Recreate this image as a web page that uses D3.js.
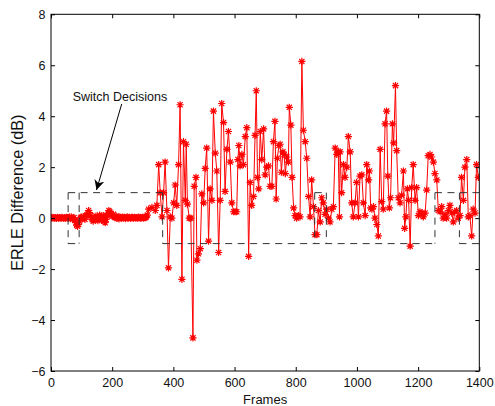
<!DOCTYPE html>
<html>
<head>
<meta charset="utf-8">
<script src="https://cdn.jsdelivr.net/npm/d3@7"></script>
<style>
  body { margin: 0; background: #fff; }
  svg { display: block; font-family: "Liberation Sans", Arial, sans-serif; }
</style>
</head>
<body>
<svg id="chart" width="495" height="406"></svg>
<script>

// frame index of every sample (quiet start is sampled densely)
const frames = [
  0, 3, 6, 9, 12, 15, 18, 21, 24, 27, 30, 33, 36, 39, 42, 45, 48, 51, 54,
  57, 60, 63, 66, 69, 72, 75, 78, 81, 84, 87, 90, 93, 96, 99,
  102, 105, 108, 111, 114, 117, 120, 123, 126, 129, 132, 135, 138, 141, 144,
  147, 150, 153, 156, 159, 162, 165, 168, 171, 174, 177, 180, 183, 186, 189,
  192, 195, 198, 201, 204, 207, 210, 213, 216, 219, 222, 225, 228, 231, 234,
  237, 240, 243, 246, 249, 252, 255, 258, 261, 264, 267, 270, 273, 276, 279,
  282, 285, 288, 291, 294, 297, 300, 303, 306, 309, 312, 315,
  319, 330, 341, 346, 352, 357, 363, 368, 373, 379, 384, 390, 395, 401, 406, 411, 417, 422, 428, 433,
  439, 442, 446, 452, 457, 464, 468, 474, 477, 482, 488, 493, 499, 504, 509, 515, 520, 526, 531, 537,
  542, 548, 553, 558, 564, 569, 575, 580, 586, 591, 597, 602, 607, 611, 614, 618, 624, 629, 635, 640,
  646, 651, 656, 662, 667, 671, 675, 679, 684, 689, 695, 700, 705, 711, 716, 722, 727, 732, 736, 740,
  745, 749, 753, 758, 762, 766, 771, 776, 779, 784, 788, 793, 798, 803, 809, 814, 820, 825, 831, 836,
  842, 847, 852, 858, 863, 869, 874, 880, 885, 890, 896, 901, 907, 912, 918, 923, 929, 934, 939, 943,
  945, 950, 956, 961, 967, 972, 978, 983, 988, 994, 999, 1005, 1010, 1016, 1021, 1027, 1032, 1038, 1041, 1045,
  1049, 1054, 1059, 1065, 1070, 1076, 1081, 1086, 1092, 1097, 1101, 1106, 1110, 1116, 1120, 1126, 1130, 1135, 1141, 1146,
  1152, 1156, 1160, 1165, 1169, 1174, 1179, 1184, 1190, 1195, 1201, 1206, 1212, 1217, 1223, 1228, 1233, 1239, 1244, 1250,
  1255, 1261, 1266, 1272, 1277, 1282, 1288, 1293, 1299, 1304, 1310, 1315, 1320, 1326, 1331, 1337, 1342, 1348, 1353, 1359,
  1364, 1369, 1375, 1380, 1386, 1391, 1397
]

// ERLE difference in dB, one per frame above
const erle = [
  0.02, 0.0, 0.03, 0.01, 0.0, 0.02, -0.01, 0.03, 0.0, 0.02, 0.01, 0.0, 0.03, 0.01, -0.01, 0.02, 0.0, 0.03, 0.01,
  0.0, 0.04, -0.02, 0.05, 0.0, -0.03, 0.02, -0.08, -0.18, -0.28, -0.32, -0.25, -0.12, 0.0, 0.04,
  -0.03, 0.06, 0.02, -0.05, 0.08, 0.12, 0.2, 0.3, 0.22, 0.1, 0.02, -0.06, -0.12, -0.05, 0.03,
  0.08, -0.04, -0.1, 0.0, 0.12, 0.05, -0.08, 0.02, 0.1, -0.12, -0.18, -0.05, 0.08, 0.2, 0.3,
  0.26, 0.18, 0.12, 0.08, 0.15, 0.05, 0.02, 0.08, 0.0, 0.04, -0.03, 0.05, 0.02, 0.0, 0.04,
  0.01, 0.03, -0.02, 0.02, 0.05, 0.0, 0.03, 0.01, -0.01, 0.04, 0.02, 0.0, 0.03, 0.01, 0.02,
  0.0, 0.04, 0.01, 0.03, -0.01, 0.02, 0.04, 0.0, 0.03, 0.02, 0.05, 0.12,
  0.35, 0.42, 0.3, 0.5, 2.1, 1.0, 0.05, 1.0, 2.2, 0.3, -1.95, 0.05, 0.0, 0.6, 1.3, 0.5, 2.1, 4.45, -2.4, 3.0,
  0.7, 2.9, 0.55, 0.0, 0.0, -4.7, 1.25, 1.6, -1.65, -1.4, -1.2, 0.95, 0.6, 1.95, 2.75, -0.9, 1.15, 0.7, 4.2, 2.55,
  1.85, -1.35, 0.7, 4.5, 3.75, 1.05, 2.7, 3.4, 2.2, 0.6, 0.25, 0.25, 0.25, 2.3, 2.85, 2.05, 2.5, 2.1, 3.2, 3.55,
  -1.5, 1.4, 0.5, 0.85, 3.25, 5.0, 1.6, 1.15, 3.4, 2.3, 3.5, 1.7, 2.0, 2.05, 1.25, 1.25, 3.0, 3.8, 0.75, 2.35,
  2.85, 2.9, 1.8, 2.6, 2.5, 1.75, 2.4, 2.2, 4.35, 3.65, 1.6, 0.4, 0.1, 0.0, 0.1, 0.05, 6.15, 3.45, 3.0, 2.35,
  0.85, 0.05, 1.5, 0.45, -0.65, -0.65, 0.3, -0.15, 0.8, 0.6, 0.15, 0.35, 0.0, -0.15, 0.35, 0.45, 2.75, 2.5, 2.6, 0.05,
  2.6, 1.0, 2.1, 1.6, 2.0, 3.2, 2.6, 0.6, 0.05, 0.6, 1.4, 0.05, 1.65, 1.7, 0.6, 0.1, 2.1, 1.5, 1.85, 0.4,
  0.35, 0.45, 0.0, -0.25, -0.7, 2.7, 0.65, 0.35, 3.7, 4.2, 1.65, 0.4, 0.8, 3.7, 2.95, 5.2, 2.65, 0.8, 0.6, 0.9,
  1.85, -0.4, 0.05, 1.15, 0.7, -1.1, 1.2, 2.1, 0.7, 1.2, 0.1, 0.25, 0.2, 0.05, 0.2, 1.1, 2.45, 2.5, 2.4, 2.2,
  1.75, 1.5, 0.3, 0.25, 0.45, 0.0, 0.15, 0.0, 0.3, 0.5, 0.2, -0.15, 0.25, 0.3, 0.0, 0.1, 1.6, 0.7, 2.0, 2.3,
  0.05, 0.1, -0.7, 0.35, 0.2, 2.1, 1.6
]

const xTicks = [0, 200, 400, 600, 800, 1000, 1200, 1400]
const yTicks = [-6, -4, -2, 0, 2, 4, 6, 8]

// switch decisions: the dashed +1 / -1 boxes
const switchFrames = [56, 92, 365, 862, 900, 1255, 1335]
const switchHigh = [[56, 365], [862, 900], [1255, 1400]]
const switchLow = [[56, 92], [365, 1255], [1335, 1400]]
const switchLevel = 1

const annotation = "Switch Decisions"


const svg = d3.select('#chart')

const plotLeft = 51, plotRight = 479.3, plotTop = 14.3, plotBottom = 371

const xScale = d3.scaleLinear().domain([0, 1400]).range([plotLeft, plotRight])
const yScale = d3.scaleLinear().domain([-6, 8]).range([plotBottom, plotTop])

const defs = svg.append('defs')
defs.append('clipPath').attr('id', 'plotArea')
  .append('rect')
  .attr('x', plotLeft).attr('y', plotTop)
  .attr('width', plotRight - plotLeft).attr('height', plotBottom - plotTop)

const series = frames.map((f, i) => ({ frame: f, value: erle[i] }))

//data line + asterisk markers
const plot = svg.append('g').attr('clip-path', 'url(#plotArea)')

const line = d3.line().x(d => xScale(d.frame)).y(d => yScale(d.value))

plot.append('path')
  .datum(series)
  .attr('d', line)
  .attr('fill', 'none')
  .attr('stroke', '#ff0000')
  .attr('stroke-width', 1)

const r = 3.6, k = r * 0.72
const asterisk = `M0,${-r}L0,${r}M${-r},0L${r},0M${-k},${-k}L${k},${k}M${-k},${k}L${k},${-k}`

plot.selectAll('.marker').data(series).enter().append('path')
  .classed('marker', true)
  .attr('d', asterisk)
  .attr('transform', d => `translate(${xScale(d.frame)},${yScale(d.value)})`)
  .attr('fill', 'none')
  .attr('stroke', '#ff0000')
  .attr('stroke-width', 1.2)

//switch decision boxes
const dash = plot.append('g')
  .attr('stroke', '#333')
  .attr('stroke-width', 1)
  .attr('stroke-dasharray', '7,5.5')
  .attr('fill', 'none')

dash.selectAll('.hi').data(switchHigh).enter().append('line')
  .attr('x1', d => xScale(d[0])).attr('x2', d => xScale(d[1]))
  .attr('y1', yScale(switchLevel)).attr('y2', yScale(switchLevel))

dash.selectAll('.lo').data(switchLow).enter().append('line')
  .attr('x1', d => xScale(d[0])).attr('x2', d => xScale(d[1]))
  .attr('y1', yScale(-switchLevel)).attr('y2', yScale(-switchLevel))

dash.selectAll('.edge').data(switchFrames).enter().append('line')
  .attr('x1', d => xScale(d)).attr('x2', d => xScale(d))
  .attr('y1', yScale(switchLevel)).attr('y2', yScale(-switchLevel))

//axes, ticks pointing inwards on all four sides
const fontSize = '12.5px'

svg.append('g').attr('transform', `translate(0, ${plotBottom})`)
  .call(d3.axisBottom(xScale).tickValues(xTicks).tickFormat(d3.format('d'))
    .tickSizeInner(-4).tickSizeOuter(0).tickPadding(7))
svg.append('g').attr('transform', `translate(0, ${plotTop})`)
  .call(d3.axisTop(xScale).tickValues(xTicks).tickSizeInner(-4).tickSizeOuter(0).tickFormat(''))

svg.append('g').attr('transform', `translate(${plotLeft}, 0)`)
  .call(d3.axisLeft(yScale).tickValues(yTicks).tickSizeInner(-4).tickSizeOuter(0).tickPadding(5.5))
svg.append('g').attr('transform', `translate(${plotRight}, 0)`)
  .call(d3.axisRight(yScale).tickValues(yTicks).tickSizeInner(-4).tickSizeOuter(0).tickFormat(''))

svg.selectAll('.domain').remove()
svg.selectAll('.tick line').attr('stroke', '#000').attr('stroke-width', 1)
svg.selectAll('.tick text')
  .attr('font-family', '"Liberation Sans", Arial, sans-serif')
  .attr('font-size', fontSize)
  .attr('fill', '#111')

svg.append('rect')
  .attr('x', plotLeft).attr('y', plotTop)
  .attr('width', plotRight - plotLeft).attr('height', plotBottom - plotTop)
  .attr('fill', 'none')
  .attr('stroke', '#000')
  .attr('stroke-width', 1)

//labels
svg.append('text')
  .text('Frames')
  .attr('x', (plotLeft + plotRight) / 2)
  .attr('y', 404)
  .attr('text-anchor', 'middle')
  .attr('font-size', '13px')
  .attr('fill', '#111')

svg.append('text')
  .text('ERLE Difference (dB)')
  .attr('transform', `translate(23.3, ${(plotTop + plotBottom) / 2}) rotate(-90)`)
  .attr('text-anchor', 'middle')
  .attr('font-size', '16.3px')
  .attr('fill', '#111')

svg.append('text')
  .text(annotation)
  .attr('x', 72.7)
  .attr('y', 100.5)
  .attr('font-size', fontSize)
  .attr('fill', '#111')

// arrow from the annotation down to the first box
defs.append('marker')
  .attr('id', 'head')
  .attr('viewBox', '0 0 10 10')
  .attr('refX', 10).attr('refY', 5)
  .attr('markerWidth', 10).attr('markerHeight', 10)
  .attr('markerUnits', 'userSpaceOnUse')
  .attr('orient', 'auto')
  .append('path')
  .attr('d', 'M0,0L10,5L0,10L3,5Z')
  .attr('fill', '#000')

svg.append('line')
  .attr('x1', 121.7).attr('y1', 104)
  .attr('x2', 96.5).attr('y2', 190)
  .attr('stroke', '#000')
  .attr('stroke-width', 1)
  .attr('marker-end', 'url(#head)')

</script>
</body>
</html>
